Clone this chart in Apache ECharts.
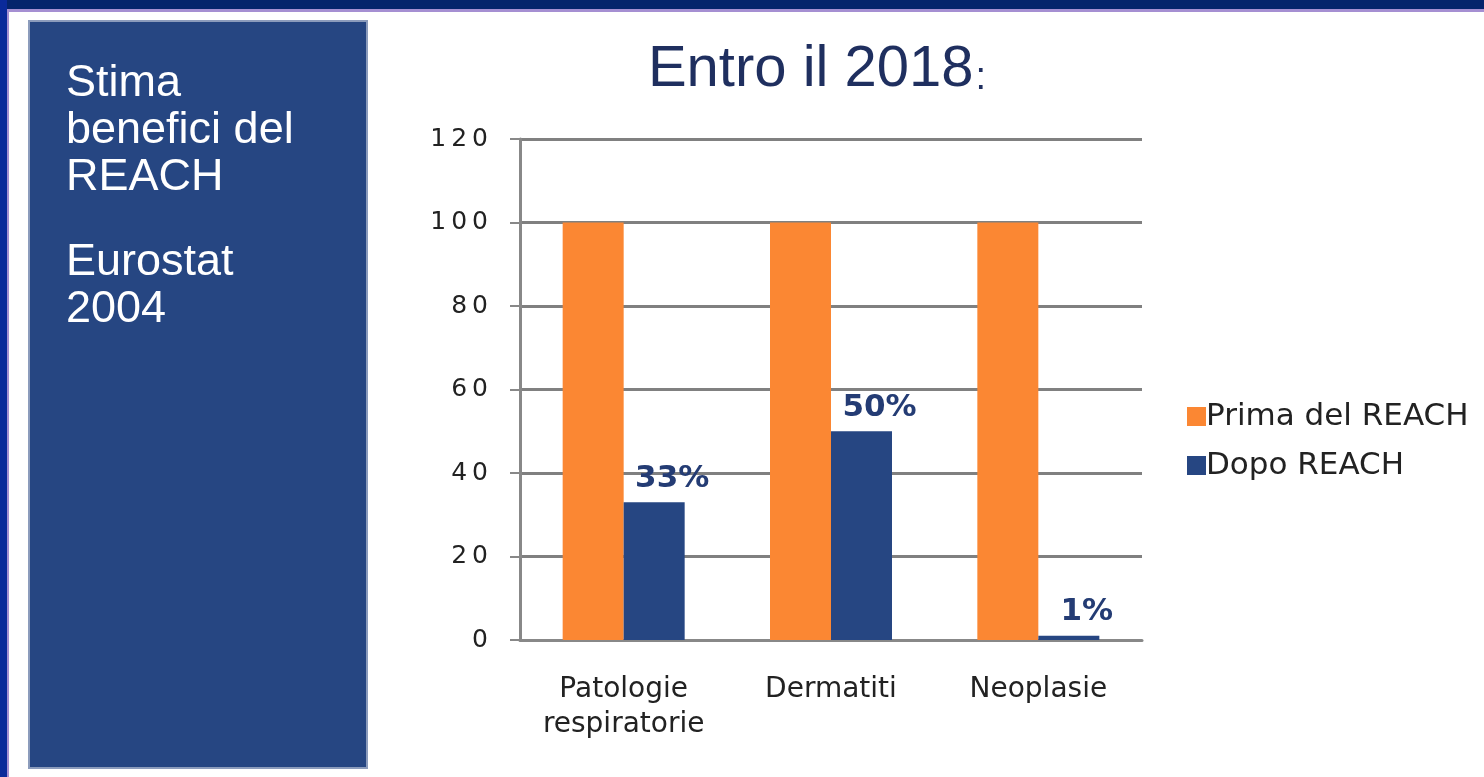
<!DOCTYPE html>
<html>
<head>
<meta charset="utf-8">
<script src="https://cdn.jsdelivr.net/npm/echarts@6/dist/echarts.min.js"></script>
<style>
html,body{margin:0;padding:0;background:#fff;}
#show{width:1484px;height:777px;}
</style>
</head>
<body>
<div id="show"></div>
<script>
    var categories = ['Patologie\nrespiratorie', 'Dermatiti', 'Neoplasie'];
    var primaValues = [100, 100, 100];
    var dopoValues = [33, 50, 1];
    var dopoLabels = ['33%', '50%', '1%'];
    var yTicks = [0, 20, 40, 60, 80, 100, 120];

    var myChart = echarts.init(document.getElementById('show'));

    var option = {
        backgroundColor: '#ffffff',
        animation: false,
        title: {
            text: '{a|Entro il 2018}{b|:}',
            left: 812,
            textAlign: 'center',
            top: 36,
            textStyle: {
                rich: {
                    a: {fontFamily: 'Liberation Sans', fontWeight: 'normal', fontSize: 58, color: '#1f2f5f'},
                    b: {fontFamily: 'Liberation Sans', fontWeight: 'normal', fontSize: 38, color: '#1f2f5f', padding: [18, 0, 0, 2]}
                }
            }
        },
        legend: {
            orient: 'vertical',
            left: 1182,
            top: 396,
            icon: 'rect',
            itemWidth: 19,
            itemHeight: 19,
            itemGap: 18,
            textStyle: {fontFamily: 'DejaVu Sans', fontSize: 31, color: '#222', padding: [0, 0, 0, -5]},
            data: ['Prima del REACH', 'Dopo REACH']
        },
        grid: {left: 520, right: 342, top: 139, bottom: 137},
        xAxis: {
            type: 'category',
            data: categories,
            axisLine: {lineStyle: {color: '#888', width: 3}},
            axisTick: {length: 12, lineStyle: {color: '#888', width: 2}},
            axisLabel: {interval: 0, hideOverlap: false, fontFamily: 'DejaVu Sans', fontSize: 28, color: '#222', margin: 32, lineHeight: 35}
        },
        yAxis: {
            type: 'value',
            min: 0,
            max: 120,
            interval: 20,
            axisLine: {show: true, lineStyle: {color: '#888', width: 3}},
            axisTick: {show: true, length: 10, lineStyle: {color: '#888', width: 2}},
            splitLine: {lineStyle: {color: '#808080', width: 3}},
            axisLabel: {
                fontFamily: 'DejaVu Sans', fontSize: 25, color: '#222', margin: 32,
                formatter: function (v) { return yTicks.indexOf(v) >= 0 ? String(v).split('').join('\u2009') : ''; }
            }
        },
        series: [
            {
                name: 'Prima del REACH',
                type: 'bar',
                barWidth: 61,
                barGap: '0%',
                itemStyle: {color: '#fb8733'},
                data: primaValues
            },
            {
                name: 'Dopo REACH',
                type: 'bar',
                barWidth: 61,
                itemStyle: {color: '#264682'},
                label: {
                    show: true,
                    position: 'top',
                    distance: 8,
                    offset: [18, 0],
                    fontFamily: 'DejaVu Sans',
                    fontWeight: 'bold',
                    fontSize: 31,
                    color: '#243c74',
                    formatter: function (p) { return dopoLabels[p.dataIndex]; }
                },
                data: dopoValues
            }
        ],
        graphic: [
            {type: 'rect', left: 0, top: 0, shape: {width: 1484, height: 9}, style: {fill: '#05246c'}, z: 10},
            {type: 'rect', left: 0, top: 9, shape: {width: 1484, height: 3}, style: {fill: '#a58fd2'}, z: 10},
            {type: 'rect', left: 0, top: 0, shape: {width: 7, height: 777}, style: {fill: '#0a2a9a'}, z: 10},
            {type: 'rect', left: 7, top: 9, shape: {width: 2, height: 768}, style: {fill: '#a58fd2'}, z: 10},
            {type: 'rect', left: 28, top: 20, shape: {width: 338, height: 747}, style: {fill: '#264682', stroke: '#8c9cbc', lineWidth: 2}, z: 10},
            {
                type: 'text', left: 66, top: 60, z: 11,
                style: {
                    text: 'Stima\nbenefici del\nREACH',
                    fill: '#ffffff',
                    font: '45px "Liberation Sans"',
                    lineHeight: 47
                }
            },
            {
                type: 'text', left: 66, top: 239, z: 11,
                style: {
                    text: 'Eurostat\n2004',
                    fill: '#ffffff',
                    font: '45px "Liberation Sans"',
                    lineHeight: 47
                }
            }
        ]
    };

    myChart.setOption(option);
</script>
</body>
</html>
